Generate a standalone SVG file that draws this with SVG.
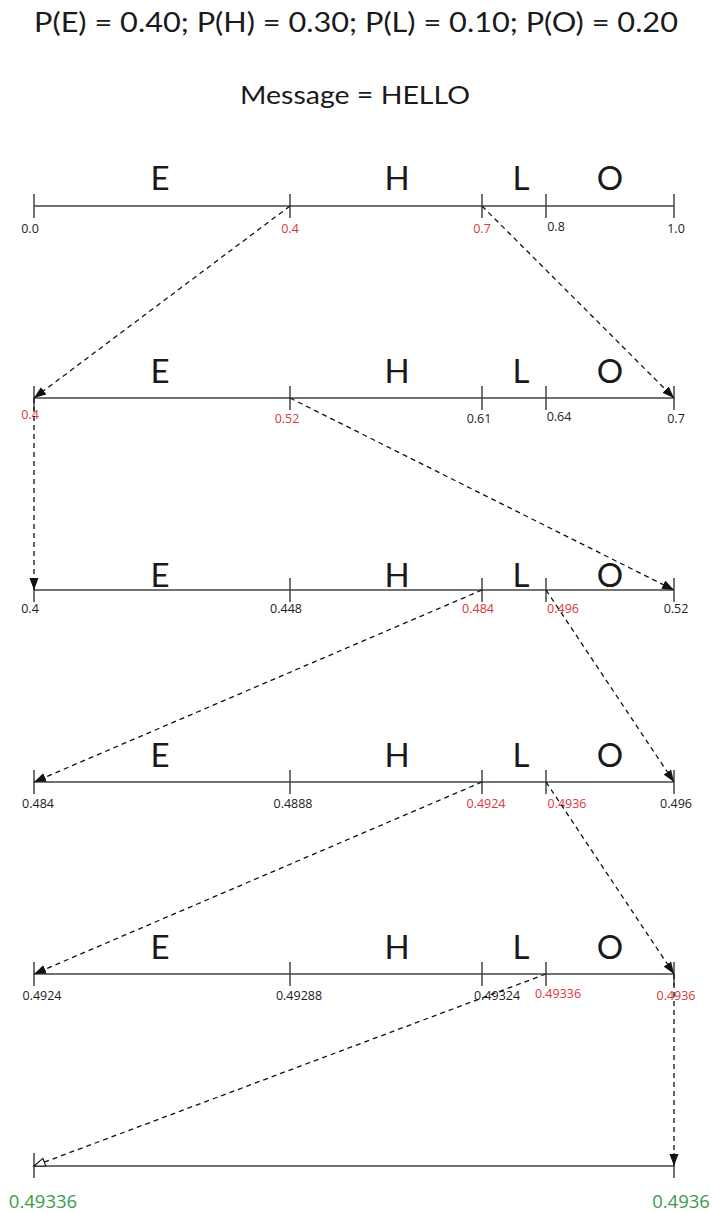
<svg xmlns="http://www.w3.org/2000/svg" width="712" height="1213" viewBox="0 0 712 1213">
<style>
.title{font-family:Lato,"Open Sans",sans-serif;fill:#1a1a1a}
.sym{font-family:Lato,"Open Sans",sans-serif;font-size:33px;fill:#1a1a1a;text-anchor:middle}
.lbl{font-family:"Open Sans",Lato,sans-serif;font-size:12.5px;fill:#222;text-anchor:middle}
.red{fill:#d9363e}
.grn{font-family:"Open Sans",Lato,sans-serif;font-size:18.5px;fill:#3d9a4f;text-anchor:middle}
.axis{stroke:#444;stroke-width:1.5;fill:none}
.tick{stroke:#444;stroke-width:1.5}
.dash{stroke:#111;stroke-width:1.3;stroke-dasharray:5 4;fill:none;marker-end:url(#ah)}
.dash.open{marker-end:url(#aho)}
</style>
<defs>
<marker id="ah" markerWidth="13" markerHeight="10" refX="12" refY="4.5" orient="auto" markerUnits="userSpaceOnUse">
<path d="M0,0 L12,4.5 L0,9 Z" fill="#111"/>
</marker>
<marker id="aho" markerWidth="14" markerHeight="11" refX="12" refY="5" orient="auto" markerUnits="userSpaceOnUse">
<path d="M1,1 L12,5 L1,9 Z" fill="#fff" stroke="#111" stroke-width="1.2"/>
</marker>
</defs>
<text class="title" x="356" y="32" font-size="27" text-anchor="middle" textLength="644" lengthAdjust="spacingAndGlyphs">P(E) = 0.40; P(H) = 0.30; P(L) = 0.10; P(O) = 0.20</text>
<text class="title" x="355" y="104" font-size="25" text-anchor="middle" textLength="230" lengthAdjust="spacingAndGlyphs">Message = HELLO</text>

<g id="row1">
<line class="axis" x1="34" y1="206" x2="674" y2="206"/>
<line class="tick" x1="34" y1="194" x2="34" y2="218"/>
<line class="tick" x1="290" y1="194" x2="290" y2="218"/>
<line class="tick" x1="482" y1="194" x2="482" y2="218"/>
<line class="tick" x1="546" y1="194" x2="546" y2="218"/>
<line class="tick" x1="674" y1="194" x2="674" y2="218"/>
<text class="sym" x="160" y="190">E</text><text class="sym" x="397" y="190">H</text><text class="sym" x="521" y="190">L</text><text class="sym" x="610" y="190">O</text>
<text class="lbl" x="30" y="233">0.0</text>
<text class="lbl red" x="290" y="233">0.4</text>
<text class="lbl red" x="482" y="233">0.7</text>
<text class="lbl" x="556" y="231">0.8</text>
<text class="lbl" x="676" y="233">1.0</text>
</g>

<g id="row2">
<line class="axis" x1="34" y1="398" x2="674" y2="398"/>
<line class="tick" x1="34" y1="386" x2="34" y2="410"/>
<line class="tick" x1="290" y1="386" x2="290" y2="410"/>
<line class="tick" x1="482" y1="386" x2="482" y2="410"/>
<line class="tick" x1="546" y1="386" x2="546" y2="410"/>
<line class="tick" x1="674" y1="386" x2="674" y2="410"/>
<text class="sym" x="160" y="383">E</text><text class="sym" x="397" y="383">H</text><text class="sym" x="521" y="383">L</text><text class="sym" x="610" y="383">O</text>
<text class="lbl red" x="30" y="419">0.4</text>
<text class="lbl red" x="287" y="423">0.52</text>
<text class="lbl" x="479" y="423">0.61</text>
<text class="lbl" x="559" y="421">0.64</text>
<text class="lbl" x="676" y="423">0.7</text>
</g>

<g id="row3">
<line class="axis" x1="34" y1="590" x2="674" y2="590"/>
<line class="tick" x1="34" y1="578" x2="34" y2="602"/>
<line class="tick" x1="290" y1="578" x2="290" y2="602"/>
<line class="tick" x1="482" y1="578" x2="482" y2="602"/>
<line class="tick" x1="546" y1="578" x2="546" y2="602"/>
<line class="tick" x1="674" y1="578" x2="674" y2="602"/>
<text class="sym" x="160" y="587">E</text><text class="sym" x="397" y="587">H</text><text class="sym" x="521" y="587">L</text><text class="sym" x="610" y="587">O</text>
<text class="lbl" x="30" y="613">0.4</text>
<text class="lbl" x="286" y="613">0.448</text>
<text class="lbl red" x="478" y="613">0.484</text>
<text class="lbl red" x="563" y="613">0.496</text>
<text class="lbl" x="676" y="613">0.52</text>
</g>

<g id="row4">
<line class="axis" x1="34" y1="782" x2="674" y2="782"/>
<line class="tick" x1="34" y1="770" x2="34" y2="794"/>
<line class="tick" x1="290" y1="770" x2="290" y2="794"/>
<line class="tick" x1="482" y1="770" x2="482" y2="794"/>
<line class="tick" x1="546" y1="770" x2="546" y2="794"/>
<line class="tick" x1="674" y1="770" x2="674" y2="794"/>
<text class="sym" x="160" y="767">E</text><text class="sym" x="397" y="767">H</text><text class="sym" x="521" y="767">L</text><text class="sym" x="610" y="767">O</text>
<text class="lbl" x="38" y="808">0.484</text>
<text class="lbl" x="293" y="808">0.4888</text>
<text class="lbl red" x="486" y="808">0.4924</text>
<text class="lbl red" x="567" y="808">0.4936</text>
<text class="lbl" x="676" y="808">0.496</text>
</g>

<g id="row5">
<line class="axis" x1="34" y1="974" x2="674" y2="974"/>
<line class="tick" x1="34" y1="962" x2="34" y2="986"/>
<line class="tick" x1="290" y1="962" x2="290" y2="986"/>
<line class="tick" x1="482" y1="962" x2="482" y2="986"/>
<line class="tick" x1="546" y1="962" x2="546" y2="986"/>
<line class="tick" x1="674" y1="962" x2="674" y2="986"/>
<text class="sym" x="160" y="959">E</text><text class="sym" x="397" y="959">H</text><text class="sym" x="521" y="959">L</text><text class="sym" x="610" y="959">O</text>
<text class="lbl" x="42" y="1000">0.4924</text>
<text class="lbl" x="299" y="1000">0.49288</text>
<text class="lbl" x="497" y="1000">0.49324</text>
<text class="lbl red" x="558" y="998">0.49336</text>
<text class="lbl red" x="676" y="1000">0.4936</text>
</g>

<g id="row6">
<line class="axis" x1="34" y1="1166" x2="674" y2="1166"/>
<line class="tick" x1="34" y1="1153" x2="34" y2="1178"/>
<line class="tick" x1="674" y1="1153" x2="674" y2="1178"/>
<text class="grn" x="43" y="1208">0.49336</text>
<text class="grn" x="681" y="1208">0.4936</text>
</g>

<g id="connectors">
<line class="dash" x1="290" y1="206" x2="34" y2="398"/>
<line class="dash" x1="482" y1="206" x2="674" y2="398"/>
<line class="dash" x1="34" y1="398" x2="34" y2="590"/>
<line class="dash" x1="290" y1="398" x2="674" y2="590"/>
<line class="dash" x1="482" y1="590" x2="34" y2="782"/>
<line class="dash" x1="546" y1="590" x2="674" y2="782"/>
<line class="dash" x1="482" y1="782" x2="34" y2="974"/>
<line class="dash" x1="546" y1="782" x2="674" y2="974"/>
<line class="dash open" x1="546" y1="974" x2="34" y2="1166"/>
<line class="dash" x1="674" y1="974" x2="674" y2="1166"/>
</g>
</svg>
